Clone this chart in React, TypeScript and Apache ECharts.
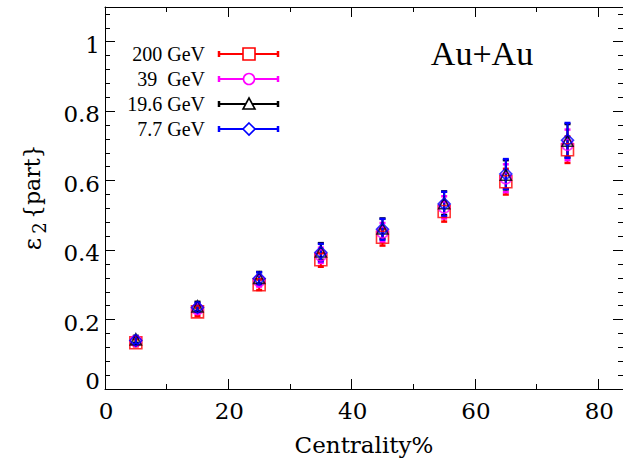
import React, { useEffect, useRef } from "react";
import * as echarts from "echarts";

const centrality = [5, 15, 25, 35, 45, 55, 65, 75];
const v200 = [0.133, 0.222, 0.3, 0.372, 0.437, 0.511, 0.597, 0.689];
const v39 = [0.138, 0.23, 0.311, 0.385, 0.451, 0.523, 0.607, 0.703];
const v196 = [0.143, 0.238, 0.32, 0.396, 0.462, 0.535, 0.617, 0.715];
const v77 = [0.14, 0.235, 0.318, 0.393, 0.46, 0.533, 0.619, 0.716];
const e200 = [0.01, 0.012, 0.015, 0.02, 0.024, 0.029, 0.037, 0.038];
const e39 = [0.01, 0.012, 0.016, 0.022, 0.027, 0.032, 0.04, 0.044];
const e196 = [0.01, 0.013, 0.017, 0.024, 0.029, 0.034, 0.042, 0.048];
const e77 = [0.01, 0.013, 0.018, 0.025, 0.03, 0.035, 0.043, 0.05];
const labels = ["200 GeV", "39  GeV", "19.6 GeV", "7.7 GeV"];
const xTickLabels = [0, 20, 40, 60, 80];
const yTickLabels = [0, 0.2, 0.4, 0.6, 0.8, 1];

const FONT = "Liberation Serif";
const AXFONT = "DejaVu Serif";

export default function App() {
  const ref = useRef<HTMLDivElement>(null);
  useEffect(() => {
    const chart = echarts.init(ref.current!, null, { renderer: "svg" });
    const sets = [
      { name: labels[0], v: v200, e: e200, color: "#ff0000", symbol: "rect", size: 12 },
      { name: labels[1], v: v39, e: e39, color: "#ff00ff", symbol: "circle", size: 11 },
      { name: labels[2], v: v196, e: e196, color: "#000000", symbol: "triangle", size: 11 },
      { name: labels[3], v: v77, e: e77, color: "#0000ff", symbol: "diamond", size: 12 },
    ];
    const series: any[] = [];
    sets.forEach((s) => {
      series.push({
        type: "custom",
        name: s.name + " err",
        data: centrality.map((x, i) => [x, s.v[i], s.e[i]]),
        renderItem: (params: any, api: any) => {
          const x = api.value(0);
          const y = api.value(1);
          const e = api.value(2);
          const top = api.coord([x, y + e]);
          const bot = api.coord([x, y - e]);
          const st = { stroke: s.color, lineWidth: 2 };
          return {
            type: "group",
            children: [
              { type: "line", shape: { x1: top[0], y1: top[1], x2: bot[0], y2: bot[1] }, style: st },
              { type: "line", shape: { x1: top[0] - 3, y1: top[1], x2: top[0] + 3, y2: top[1] }, style: { stroke: s.color, lineWidth: 2.5 } },
              { type: "line", shape: { x1: bot[0] - 3, y1: bot[1], x2: bot[0] + 3, y2: bot[1] }, style: { stroke: s.color, lineWidth: 2.5 } },
            ],
          };
        },
        z: 2,
      });
      series.push({
        type: "scatter",
        name: s.name,
        data: centrality.map((x, i) => [x, s.v[i]]),
        symbol: s.symbol,
        symbolSize: s.size,
        itemStyle: { color: "rgba(0,0,0,0)", borderColor: s.color, borderWidth: 1.6 },
        z: 3,
      });
    });

    series.push({
      type: "custom",
      name: "x tick labels",
      silent: true,
      data: xTickLabels.map((v) => [v, 0]),
      renderItem: (params: any, api: any) => {
        const p = api.coord([api.value(0), 0]);
        return {
          type: "text",
          x: p[0] + 1,
          y: p[1] + 22,
          style: { text: String(api.value(0)), font: `23px ${AXFONT}`, fill: "#000", align: "center", verticalAlign: "middle" },
        };
      },
    });
    series.push({
      type: "custom",
      name: "y tick labels",
      silent: true,
      data: yTickLabels.map((v) => [0, v]),
      renderItem: (params: any, api: any) => {
        const v = api.value(1);
        const p = api.coord([0, v]);
        return {
          type: "text",
          x: p[0] - 5,
          y: p[1] + (v === 0 ? -8 : 3),
          style: { text: String(v), font: `23px ${AXFONT}`, fill: "#000", align: "right", verticalAlign: "middle" },
        };
      },
    });

    const legendY = [54, 79, 104, 129];
    const g: any[] = [];
    sets.forEach((s, i) => {
      const y = legendY[i];
      const st = { stroke: s.color, lineWidth: 2 };
      g.push({
        type: "text",
        x: 205,
        y,
        style: { text: s.name, font: `20px ${FONT}`, fill: "#000", align: "right", verticalAlign: "middle" },
      });
      g.push({ type: "line", shape: { x1: 219, y1: y, x2: 278, y2: y }, style: st });
      g.push({ type: "line", shape: { x1: 219, y1: y - 3, x2: 219, y2: y + 3 }, style: { stroke: s.color, lineWidth: 2.5 } });
      g.push({ type: "line", shape: { x1: 278, y1: y - 3, x2: 278, y2: y + 3 }, style: { stroke: s.color, lineWidth: 2.5 } });
      const mst = { fill: "#fff", stroke: s.color, lineWidth: 1.6 };
      const cx = 249;
      if (s.symbol === "rect") {
        g.push({ type: "rect", shape: { x: cx - 6, y: y - 6, width: 12, height: 12 }, style: mst });
      } else if (s.symbol === "circle") {
        g.push({ type: "circle", shape: { cx, cy: y, r: 5.5 }, style: mst });
      } else if (s.symbol === "triangle") {
        g.push({ type: "polygon", shape: { points: [[cx, y - 6], [cx + 6, y + 5], [cx - 6, y + 5]] }, style: mst });
      } else {
        g.push({ type: "polygon", shape: { points: [[cx, y - 6], [cx + 6, y], [cx, y + 6], [cx - 6, y]] }, style: mst });
      }
    });
    g.push({
      type: "text",
      x: 482,
      y: 53,
      style: { text: "Au+Au", font: `34px ${FONT}`, fill: "#000", align: "center", verticalAlign: "middle" },
    });
    g.push({
      type: "text",
      x: 364,
      y: 445,
      style: { text: "Centrality%", font: `23px ${AXFONT}`, fill: "#000", align: "center", verticalAlign: "middle" },
    });
    g.push({
      type: "group",
      x: 32,
      y: 200,
      rotation: Math.PI / 2,
      children: [
        { type: "text", x: -44, y: 1, style: { text: "ε", font: `24px ${AXFONT}`, fill: "#000", align: "center", verticalAlign: "middle" } },
        { type: "text", x: -28, y: 7, style: { text: "2", font: `18px ${AXFONT}`, fill: "#000", align: "center", verticalAlign: "middle" } },
        { type: "text", x: -19, y: 0, style: { text: "{part}", font: `22px ${AXFONT}`, fill: "#000", align: "left", verticalAlign: "middle" } },
      ],
    });

    const axisLine = { show: true, onZero: false, lineStyle: { color: "#000", width: 1 } };
    const tick = { show: true, inside: true, length: 10, lineStyle: { color: "#000" } };
    const minorX = { show: true, splitNumber: 2, length: 5, lineStyle: { color: "#000" } };
    const minorY = { show: true, splitNumber: 5, length: 5, lineStyle: { color: "#000" } };

    chart.setOption({
      animation: false,
      backgroundColor: "#fff",
      grid: { left: 105, top: 7, width: 520, height: 382, containLabel: false },
      xAxis: [
        { type: "value", min: 0, max: 84, interval: 20, axisLine, splitLine: { show: false }, axisTick: tick, minorTick: minorX, axisLabel: { show: false } },
        { type: "value", position: "top", min: 0, max: 84, interval: 20, axisLine, splitLine: { show: false }, axisTick: tick, minorTick: minorX, axisLabel: { show: false } },
      ],
      yAxis: [
        { type: "value", min: 0, max: 1.1, interval: 0.2, axisLine, splitLine: { show: false }, axisTick: tick, minorTick: minorY, axisLabel: { show: false } },
        { type: "value", position: "right", min: 0, max: 1.1, interval: 0.2, axisLine, splitLine: { show: false }, axisTick: tick, minorTick: minorY, axisLabel: { show: false } },
      ],
      graphic: g,
      series,
    });
    return () => chart.dispose();
  }, []);
  return (
    <div
      ref={ref}
      style={{ position: "fixed", left: 0, top: 0, width: 623, height: 464 }}
    />
  );
}
